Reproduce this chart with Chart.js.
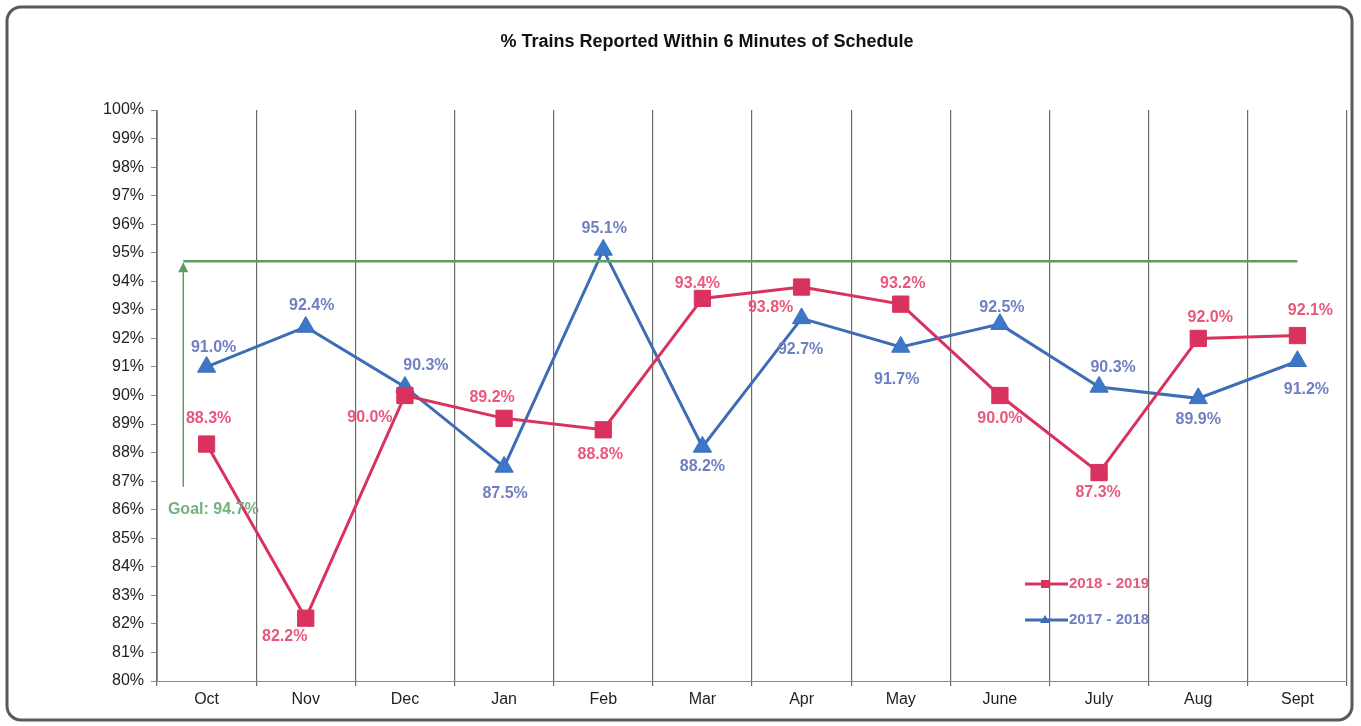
<!DOCTYPE html>
<html>
<head>
<meta charset="utf-8">
<script src="https://cdn.jsdelivr.net/npm/chart.js@4/dist/chart.umd.min.js"></script>
<style>
  html, body { margin: 0; padding: 0; background: #fff; }
  #wrap { position: relative; width: 1361px; height: 726px; }
</style>
</head>
<body>
<div id="wrap"><canvas id="grafica" width="1361" height="726"></canvas></div>
<script>
// ===== datos =====
const meses = ["Oct", "Nov", "Dec", "Jan", "Feb", "Mar", "Apr", "May", "June", "July", "Aug", "Sept"];
const serie1819 = [88.3, 82.2, 90.0, 89.2, 88.8, 93.4, 93.8, 93.2, 90.0, 87.3, 92.0, 92.1];
const serie1718 = [91.0, 92.4, 90.3, 87.5, 95.1, 88.2, 92.7, 91.7, 92.5, 90.3, 89.9, 91.2];
const meta = 94.7;          // goal
const metaFlechaBase = 86.8; // where the goal arrow starts
const yMin = 80, yMax = 100;

// label offsets (px) per point
const off1819 = [[2,-25],[-21,18],[-35,22],[-12,-21],[-3,25],[-5,-15],[-31,21],[2,-21],[0,23],[-1,20],[12,-21],[13,-25]];
const off1718 = [[7,-19],[6,-21],[21,-21],[1,27],[1,-21],[0,20],[-1,31],[-4,33],[2,-17],[14,-19],[0,21],[9,28]];

const FUENTE = "'Liberation Sans', Arial, sans-serif";
const ROJO = "#d9325e", ROJO_TXT = "#e8577c";
const AZUL = "#3e6db5", AZUL_TXT = "#6f7fc2";
const VERDE = "#5c9e62", VERDE_TXT = "#72b27e";

const extras = {
  id: "extras",
  beforeDraw(chart) {
    const c = chart.ctx;
    c.save();
    c.fillStyle = "#fff";
    c.fillRect(0, 0, chart.width, chart.height);
    c.strokeStyle = "#5a5a5a";
    c.lineWidth = 3;
    c.beginPath();
    c.roundRect(7, 7, 1345, 713, 14);
    c.stroke();
    // title
    c.fillStyle = "#111";
    c.font = "bold 18px " + FUENTE;
    c.textAlign = "center";
    c.textBaseline = "middle";
    c.fillText("% Trains Reported Within 6 Minutes of Schedule", 707, 42);
    c.restore();
  },
  afterDatasetsDraw(chart) {
    const c = chart.ctx;
    const x = chart.scales.x, y = chart.scales.y;
    const step = x.getPixelForValue(1) - x.getPixelForValue(0);
    const yGoal = y.getPixelForValue(meta);
    const xArrow = x.getPixelForValue(0) - 0.235 * step;
    c.save();
    // goal line
    c.strokeStyle = VERDE;
    c.lineWidth = 2.5;
    c.beginPath();
    c.moveTo(xArrow, yGoal);
    c.lineTo(x.getPixelForValue(meses.length - 1), yGoal);
    c.stroke();
    // arrow
    c.lineWidth = 1.5;
    c.beginPath();
    c.moveTo(xArrow, y.getPixelForValue(metaFlechaBase));
    c.lineTo(xArrow, yGoal + 6);
    c.stroke();
    c.fillStyle = VERDE;
    c.beginPath();
    c.moveTo(xArrow, yGoal + 1);
    c.lineTo(xArrow - 5, yGoal + 11);
    c.lineTo(xArrow + 5, yGoal + 11);
    c.closePath();
    c.fill();
    c.font = "bold 16px " + FUENTE;
    c.textAlign = "center";
    c.textBaseline = "middle";
    c.fillStyle = VERDE_TXT;
    c.fillText("Goal: " + meta.toFixed(1) + "%", xArrow + 30, y.getPixelForValue(metaFlechaBase) + 23);

    // data labels
    const sets = [[0, off1819, ROJO_TXT], [1, off1718, AZUL_TXT]];
    sets.forEach(([i, offs, col]) => {
      const m = chart.getDatasetMeta(i);
      c.fillStyle = col;
      m.data.forEach((p, j) => {
        const v = chart.data.datasets[i].data[j];
        c.fillText(v.toFixed(1) + "%", p.x + offs[j][0], p.y + offs[j][1]);
      });
    });

    // legend (clipped by the Aug/Sept grid line, as in the original)
    const leg = [["2018 - 2019", ROJO, "rect", 584], ["2017 - 2018", AZUL, "triangle", 620]];
    c.beginPath();
    c.rect(1000, 560, 148, 80);
    c.clip();
    c.textAlign = "left";
    leg.forEach(([txt, col, forma, ly]) => {
      c.strokeStyle = col;
      c.lineWidth = 3;
      c.beginPath();
      c.moveTo(1025, ly);
      c.lineTo(1068, ly);
      c.stroke();
      c.fillStyle = col;
      if (forma === "rect") c.fillRect(1041, ly - 4, 8, 8);
      else {
        c.beginPath();
        c.moveTo(1045, ly - 5);
        c.lineTo(1050, ly + 3);
        c.lineTo(1040, ly + 3);
        c.closePath();
        c.fill();
      }
      c.fillStyle = col === ROJO ? ROJO_TXT : AZUL_TXT;
      c.font = "bold 15px " + FUENTE;
      c.fillText(txt, 1069, ly);
    });
    c.restore();
  }
};

new Chart(document.getElementById("grafica"), {
  type: "line",
  data: {
    labels: meses,
    datasets: [
      {
        label: "2018 - 2019",
        data: serie1819,
        borderColor: ROJO,
        backgroundColor: ROJO,
        borderWidth: 3,
        pointStyle: "rect",
        pointRadius: 11.5,
        pointBorderWidth: 1,
        tension: 0
      },
      {
        label: "2017 - 2018",
        data: serie1718,
        borderColor: AZUL,
        backgroundColor: "#3b78c9",
        borderWidth: 3,
        pointStyle: "triangle",
        pointRadius: 10.5,
        pointBorderWidth: 1,
        tension: 0
      }
    ]
  },
  options: {
    responsive: false,
    animation: false,
    layout: { padding: { left: 0, top: 110, right: 14, bottom: 0 } },
    plugins: {
      legend: { display: false },
      title: { display: false },
      tooltip: { enabled: false }
    },
    scales: {
      x: {
        offset: true,
        grid: { offset: true, color: "#6a6a6a", lineWidth: 1.2, tickLength: 5 },
        border: { display: true, color: "#8a8a8a" },
        ticks: { color: "#222", font: { family: FUENTE, size: 16 }, padding: 4 },
        afterFit(s) { s.height = 45; }
      },
      y: {
        min: yMin,
        max: yMax,
        ticks: {
          stepSize: 1,
          color: "#222",
          font: { family: FUENTE, size: 16 },
          padding: 7,
          callback: v => v + "%"
        },
        grid: { drawOnChartArea: false, color: "#8a8a8a", tickLength: 6 },
        border: { display: true, color: "#8a8a8a" },
        afterFit(s) { s.width = 157; }
      }
    }
  },
  plugins: [extras]
});
</script>
</body>
</html>
